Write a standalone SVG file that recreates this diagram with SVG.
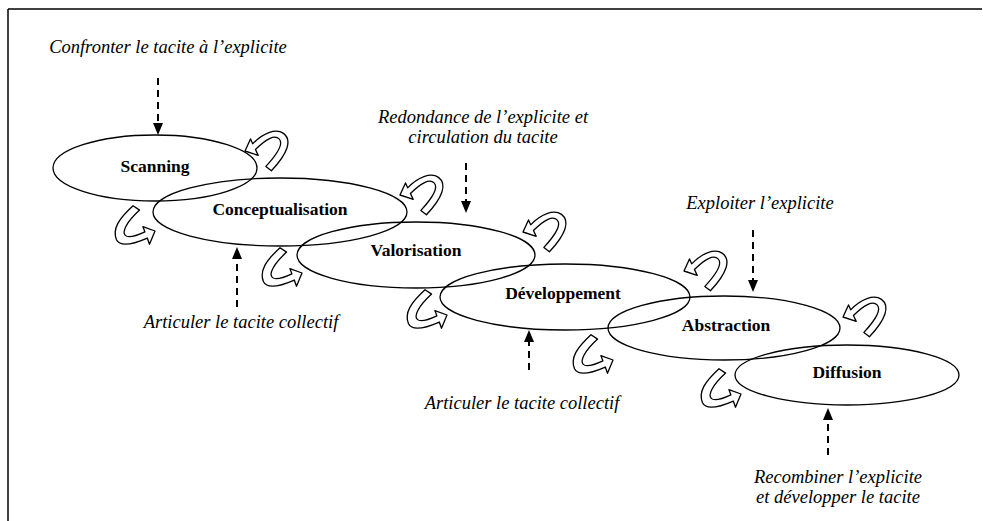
<svg xmlns="http://www.w3.org/2000/svg" xmlns:xlink="http://www.w3.org/1999/xlink" width="983" height="521" viewBox="0 0 983 521">
<style>
.frame{stroke:#000;stroke-width:1.5;fill:none}
.stage{fill:none;stroke:#000;stroke-width:1.3}
.lbl{font-family:"Liberation Serif","Times New Roman",serif;font-weight:bold;font-size:17.5px;text-anchor:middle;fill:#000}
.note{font-family:"Liberation Serif","Times New Roman",serif;font-style:italic;font-size:18.5px;text-anchor:middle;fill:#000}
.dash{stroke:#000;stroke-width:2;stroke-dasharray:7 5;fill:none}
.head{fill:#000}
.loop{fill:#fff;stroke:#000;stroke-width:1.2;stroke-linejoin:round}
</style>
<defs>
<path id="loopU" d="M0,0 L5,-11 L7,-6.5 C16,-16 28,-21 35,-16 C43,-10 39,2 24,18 L19,14 C31,1 35,-7 31,-11 C27,-15 19,-11 9.5,-1.3 L12,4 Z"/>
<path id="loopL" d="M0,0 L-11,-4 L-9.2,0.8 C-16,4 -24,7 -27,4 C-30,1 -27,-7 -14,-19 L-20,-23 C-33,-11 -39,-2 -35,8 C-32,14 -22,13 -7,6.4 L-5,12 Z"/>
</defs>
<g id="frame">
<line class="frame" x1="8" y1="9" x2="982" y2="9"/>
<line class="frame" x1="8" y1="9" x2="8" y2="521"/>
</g>
<g id="node-scanning"><ellipse class="stage" cx="155" cy="168" rx="102" ry="33"/><text class="lbl" x="155" y="172">Scanning</text></g>
<g id="node-conceptualisation"><ellipse class="stage" cx="280" cy="212" rx="127" ry="34"/><text class="lbl" x="280" y="215">Conceptualisation</text></g>
<g id="node-valorisation"><ellipse class="stage" cx="416" cy="255" rx="119" ry="33"/><text class="lbl" x="416" y="256">Valorisation</text></g>
<g id="node-developpement"><ellipse class="stage" cx="565" cy="297" rx="125" ry="33"/><text class="lbl" x="563" y="299">Développement</text></g>
<g id="node-abstraction"><ellipse class="stage" cx="724" cy="328" rx="116" ry="32"/><text class="lbl" x="726" y="331">Abstraction</text></g>
<g id="node-diffusion"><ellipse class="stage" cx="847" cy="375" rx="112" ry="30"/><text class="lbl" x="847" y="378">Diffusion</text></g>
<g id="notes">
<text class="note" x="168" y="53">Confronter le tacite à l’explicite</text>
<text class="note" x="483" y="123">Redondance de l’explicite et</text>
<text class="note" x="483" y="143">circulation du tacite</text>
<text class="note" x="760" y="209">Exploiter l’explicite</text>
<text class="note" x="241" y="328">Articuler le tacite collectif</text>
<text class="note" x="522" y="409">Articuler le tacite collectif</text>
<text class="note" x="838" y="483">Recombiner l’explicite</text>
<text class="note" x="838" y="503">et développer le tacite</text>
</g>
<g id="connectors">
<line class="dash" x1="158" y1="78" x2="158" y2="124"/><path class="head" d="M153,123 L163,123 L158,135 Z"/>
<line class="dash" x1="466" y1="163" x2="466" y2="202"/><path class="head" d="M461,201 L471,201 L466,213 Z"/>
<line class="dash" x1="753" y1="230" x2="753" y2="281"/><path class="head" d="M748,280 L758,280 L753,292 Z"/>
<line class="dash" x1="237" y1="307" x2="237" y2="258"/><path class="head" d="M232,259 L242,259 L237,247 Z"/>
<line class="dash" x1="529" y1="370" x2="529" y2="341"/><path class="head" d="M524,342 L534,342 L529,330 Z"/>
<line class="dash" x1="828" y1="455" x2="828" y2="419"/><path class="head" d="M823,420 L833,420 L828,408 Z"/>
</g>
<g id="loops">
<use xlink:href="#loopU" class="loop" transform="translate(245,151) scale(1.1)"/>
<use xlink:href="#loopU" class="loop" transform="translate(400,195) scale(1.1)"/>
<use xlink:href="#loopU" class="loop" transform="translate(523,232) scale(1.1)"/>
<use xlink:href="#loopU" class="loop" transform="translate(684,271) scale(1.1)"/>
<use xlink:href="#loopU" class="loop" transform="translate(843,317) scale(1.1)"/>
<use xlink:href="#loopL" class="loop" transform="translate(155,231) scale(1.1)"/>
<use xlink:href="#loopL" class="loop" transform="translate(302,273) scale(1.1)"/>
<use xlink:href="#loopL" class="loop" transform="translate(447,315) scale(1.1)"/>
<use xlink:href="#loopL" class="loop" transform="translate(613,360) scale(1.1)"/>
<use xlink:href="#loopL" class="loop" transform="translate(741,394) scale(1.1)"/>
</g>
</svg>
